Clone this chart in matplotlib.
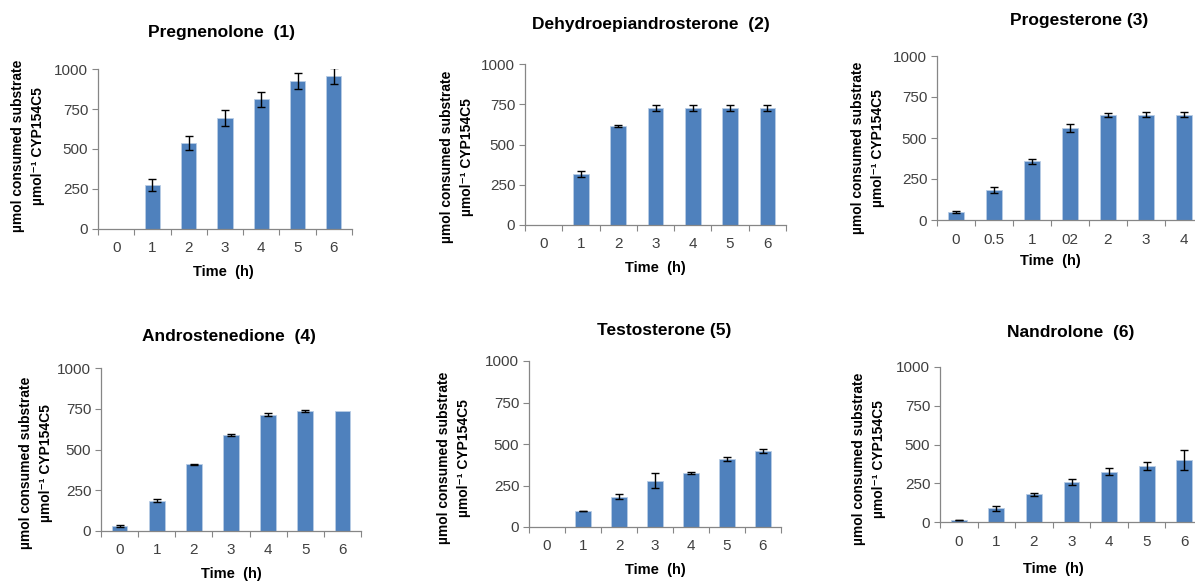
import matplotlib.pyplot as plt
import numpy as np

plt.rcParams['font.family'] = ['Liberation Sans', 'DejaVu Sans']

# data (µmol consumed substrate per µmol CYP154C5)
hours_std = ['0', '1', '2', '3', '4', '5', '6']
hours_prog = ['0', '0.5', '1', '02', '2', '3', '4']

preg_val = [0, 274, 535, 692, 810, 925, 958]
preg_err = [0, 36, 44, 51, 49, 51, 49]

dhea_val = [0, 317, 613, 727, 727, 727, 727]
dhea_err = [0, 18, 6, 21, 21, 21, 21]

prog_val = [49, 183, 358, 561, 642, 642, 642]
prog_err = [4, 16, 17, 23, 13, 16, 16]

andro_val = [31, 186, 409, 587, 712, 736, 736]
andro_err = [6, 8, 2, 7, 9, 9, 0]

testo_val = [0, 96, 183, 279, 325, 408, 458]
testo_err = [0, 2, 13, 44, 8, 12, 13]

nandro_val = [13, 88, 178, 256, 325, 361, 398]
nandro_err = [3, 14, 11, 19, 23, 25, 65]

titles = ['Pregnenolone  (1)', 'Dehydroepiandrosterone  (2)', 'Progesterone (3)',
          'Androstenedione  (4)', 'Testosterone (5)', 'Nandrolone  (6)']
ylab = 'µmol consumed substrate\nµmol⁻¹ CYP154C5'

W, H = 1195, 581
BAR = '#4F81BD'
AXC = '#868686'
TXT = '#404040'

# pixel layout: axes (left, right, bottom, top), title (x, y), xlabel (x, y), ylabel (x, y)
layout = [
    dict(ax=(98, 352, 229, 69), t=(222, 32), xl=(223, 272), yl=(28, 146)),
    dict(ax=(525, 786, 225, 64), t=(651, 24), xl=(655, 268), yl=(457, 157)),
    dict(ax=(937, 1203, 220, 56), t=(1079, 21), xl=(1050, 261), yl=(868, 148)),
    dict(ax=(101, 361, 531, 368), t=(229, 337), xl=(231, 574), yl=(36, 463)),
    dict(ax=(529, 781, 527, 361), t=(664, 330), xl=(655, 570), yl=(454, 458)),
    dict(ax=(940, 1203, 522, 367), t=(1071, 332), xl=(1053, 569), yl=(869, 459)),
]
series = [
    (hours_std, preg_val, preg_err),
    (hours_std, dhea_val, dhea_err),
    (hours_prog, prog_val, prog_err),
    (hours_std, andro_val, andro_err),
    (hours_std, testo_val, testo_err),
    (hours_std, nandro_val, nandro_err),
]

fig = plt.figure(figsize=(W / 100, H / 100), dpi=100)

for lay, (labels, vals, errs), title in zip(layout, series, titles):
    l, r, b, t = lay['ax']
    ax = fig.add_axes([l / W, 1 - b / H, (r - l) / W, (b - t) / H])
    x = np.arange(len(labels))
    vals = np.array(vals)
    errs = np.array(errs)
    ax.bar(x, vals, width=0.42, color=BAR, edgecolor='#B9CDE5', linewidth=0.6, zorder=2)
    has = errs > 0  # no whiskers where the error is zero
    ax.errorbar(x[has], vals[has], yerr=errs[has], fmt='none', ecolor='black', elinewidth=1,
                capsize=3, capthick=1, zorder=3)
    ax.set_xlim(-0.5, len(labels) - 0.5)
    ax.set_ylim(0, 1000)
    ax.set_yticks([0, 250, 500, 750, 1000])
    ax.set_xticks(x)
    ax.set_xticklabels(labels)
    ax.set_xticks(np.arange(len(labels) + 1) - 0.5, minor=True)
    ax.tick_params(axis='x', which='major', length=0, pad=9, labelsize=11, labelcolor=TXT)
    ax.tick_params(axis='x', which='minor', length=4, width=0.8, color=AXC, direction='out')
    ax.tick_params(axis='y', length=4, width=0.8, color=AXC, pad=3, labelsize=11, labelcolor=TXT)
    for s in ['top', 'right']:
        ax.spines[s].set_visible(False)
    for s in ['left', 'bottom']:
        ax.spines[s].set_color(AXC)
        ax.spines[s].set_linewidth(0.9)
    ax.set_facecolor('none')

    fig.text(lay['t'][0] / W, 1 - lay['t'][1] / H, title, ha='center', va='center',
             fontsize=12.5, fontweight='bold', color='black')
    fig.text(lay['xl'][0] / W, 1 - lay['xl'][1] / H, 'Time  (h)', ha='center', va='center',
             fontsize=10.5, fontweight='bold', color='black')
    fig.text(lay['yl'][0] / W, 1 - lay['yl'][1] / H, ylab, ha='center', va='center',
             rotation=90, multialignment='center', fontsize=10, fontweight='bold',
             color='black', linespacing=1.5)

fig.savefig('out.png', dpi=100)
